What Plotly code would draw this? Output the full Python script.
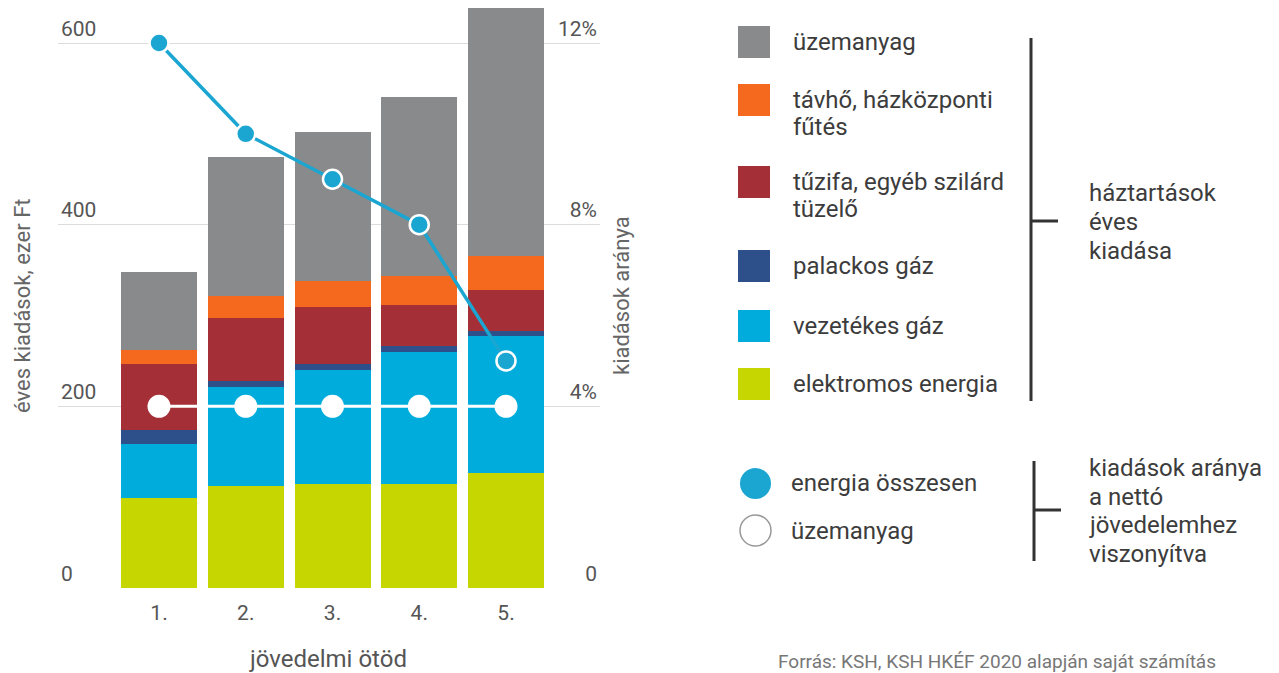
import plotly.graph_objects as go

OFF = 8  # page body margin
W, H = 1279 - OFF, 673 - OFF

quintiles = ["1.", "2.", "3.", "4.", "5."]

# éves kiadások, ezer Ft (stacked, bottom to top)
elektromos = [99, 112, 115, 115, 127]
vezetekes = [60, 109, 125, 145, 150]
palackos = [15, 7, 7, 6, 6]
tuzifa = [73, 69, 62, 46, 45]
tavho = [15, 24, 29, 31, 38]
uzemanyag = [86, 153, 164, 198, 276]

# kiadások aránya a nettó jövedelemhez, %
arany_energia = [12.0, 10.0, 9.0, 8.0, 5.0]
arany_uzemanyag = [4.0, 4.0, 4.0, 4.0, 4.0]

left_ticks = [0, 200, 400, 600]
right_ticks = [0, 4, 8, 12]
right_ticktext = ["0", "4%", "8%", "12%"]

bar_series = [
    ("elektromos energia", elektromos, "#c5d600"),
    ("vezetékes gáz", vezetekes, "#00acdc"),
    ("palackos gáz", palackos, "#2d4f8a"),
    ("tűzifa, egyéb szilárd tüzelő", tuzifa, "#a52f37"),
    ("távhő, házközponti fűtés", tavho, "#f5691e"),
    ("üzemanyag", uzemanyag, "#898a8c"),
]

LINE_BLUE = "#1ba6d2"
TXT = "#3c3c3c"
FONT = "Roboto"
LEG = 24

fig = go.Figure()
for name, vals, col in bar_series:
    fig.add_trace(go.Bar(x=quintiles, y=vals, name=name, marker=dict(color=col, line=dict(width=0)),
                         yaxis="y", showlegend=False))

fig.add_trace(go.Scatter(x=quintiles, y=arany_uzemanyag, yaxis="y2", mode="lines+markers",
                         line=dict(color="white", width=3),
                         marker=dict(size=23, color="white", line=dict(width=0)),
                         showlegend=False, name="üzemanyag arány"))
fig.add_trace(go.Scatter(x=quintiles, y=arany_energia, yaxis="y2", mode="lines+markers",
                         line=dict(color=LINE_BLUE, width=3.5),
                         marker=dict(size=19, color=LINE_BLUE, line=dict(width=2.5, color="white")),
                         showlegend=False, name="energia összesen"))

def px(x):
    return (x - OFF) / W

def py(y):
    return 1 - (y - OFF) / H

x0, x1 = 58, 600
y_bottom = 588
scale = (588 - 43) / 600.0
y_top = OFF
ymax = (y_bottom - y_top) / scale
centers_first, spacing = 159, 86.75
xr = [(x0 - centers_first) / spacing, (x1 - centers_first) / spacing]

fig.update_layout(
    width=W, height=H, autosize=False,
    margin=dict(l=0, r=0, t=0, b=0),
    paper_bgcolor="white", plot_bgcolor="white",
    barmode="stack", bargap=0.124,
    font=dict(family=FONT, color=TXT, size=16),
    xaxis=dict(domain=[px(x0), px(x1)], range=xr, type="category",
               showgrid=False, zeroline=False, showline=False, ticks="",
               ticklabelstandoff=10, tickfont=dict(size=21, color="#555")),
    yaxis=dict(domain=[py(y_bottom), 1.0], range=[0, ymax], tickvals=left_ticks,
               ticklabelposition="inside top", showgrid=True, gridcolor="#dcdcdc", gridwidth=1,
               zeroline=False, showline=False, tickfont=dict(size=21, color="#555")),
    yaxis2=dict(overlaying="y", side="right", anchor="x", range=[0, ymax / 50.0],
                tickvals=right_ticks, ticktext=right_ticktext,
                ticklabelposition="inside top", showgrid=False, zeroline=False, showline=False,
                tickfont=dict(size=21, color="#555")),
)

ann = []
shapes = []

def text(x, y, s, size=LEG, color=TXT, xanchor="left", angle=0):
    ann.append(dict(x=px(x), y=py(y), xref="paper", yref="paper", text=s, showarrow=False,
                    xanchor=xanchor, yanchor="middle", textangle=angle,
                    font=dict(size=size, color=color, family=FONT)))

# axis titles
text(22, 306, "éves kiadások, ezer Ft", size=22, color="#666", xanchor="center", angle=-90)
text(621, 296, "kiadások aránya", size=22, color="#666", xanchor="center", angle=-90)
text(328, 659, "jövedelmi ötöd", size=24, color="#555", xanchor="center")

# legend squares + labels
legend_items = [
    ("#898a8c", 42, ["üzemanyag"]),
    ("#f5691e", 100, ["távhő, házközponti", "fűtés"]),
    ("#a52f37", 182, ["tűzifa, egyéb szilárd", "tüzelő"]),
    ("#2d4f8a", 266, ["palackos gáz"]),
    ("#00acdc", 326, ["vezetékes gáz"]),
    ("#c5d600", 384, ["elektromos energia"]),
]
for col, cy, lines in legend_items:
    shapes.append(dict(type="rect", xref="paper", yref="paper", x0=px(738), x1=px(770),
                       y0=py(cy + 16), y1=py(cy - 16), fillcolor=col, line=dict(width=0)))
    for i, ln in enumerate(lines):
        text(791, cy + i * 27, ln)

# bracket 1
shapes.append(dict(type="line", xref="paper", yref="paper", x0=px(1031), x1=px(1031),
                   y0=py(38), y1=py(401), line=dict(color="#333", width=3)))
shapes.append(dict(type="line", xref="paper", yref="paper", x0=px(1031), x1=px(1058),
                   y0=py(221), y1=py(221), line=dict(color="#333", width=3)))
for i, ln in enumerate(["háztartások", "éves", "kiadása"]):
    text(1087, 193 + i * 29, ln)

# circle legend
shapes.append(dict(type="circle", xref="paper", yref="paper", x0=px(740), x1=px(771),
                   y0=py(499), y1=py(468), fillcolor=LINE_BLUE, line=dict(width=0)))
shapes.append(dict(type="circle", xref="paper", yref="paper", x0=px(740), x1=px(771),
                   y0=py(546), y1=py(515), fillcolor="white", line=dict(width=1.5, color="#999")))
text(789, 483, "energia összesen")
text(789, 531, "üzemanyag")

# bracket 2
shapes.append(dict(type="line", xref="paper", yref="paper", x0=px(1034), x1=px(1034),
                   y0=py(461), y1=py(561), line=dict(color="#333", width=3)))
shapes.append(dict(type="line", xref="paper", yref="paper", x0=px(1034), x1=px(1061),
                   y0=py(510), y1=py(510), line=dict(color="#333", width=3)))
for i, ln in enumerate(["kiadások aránya", "a nettó", "jövedelemhez", "viszonyítva"]):
    text(1087, 468 + i * 28.5, ln)

# source line at the bottom edge
text(776, 661, "Forrás: KSH, KSH HKÉF 2020 alapján saját számítás", size=19, color="#777")

fig.update_layout(annotations=ann, shapes=shapes)
fig.write_html("out.html")
